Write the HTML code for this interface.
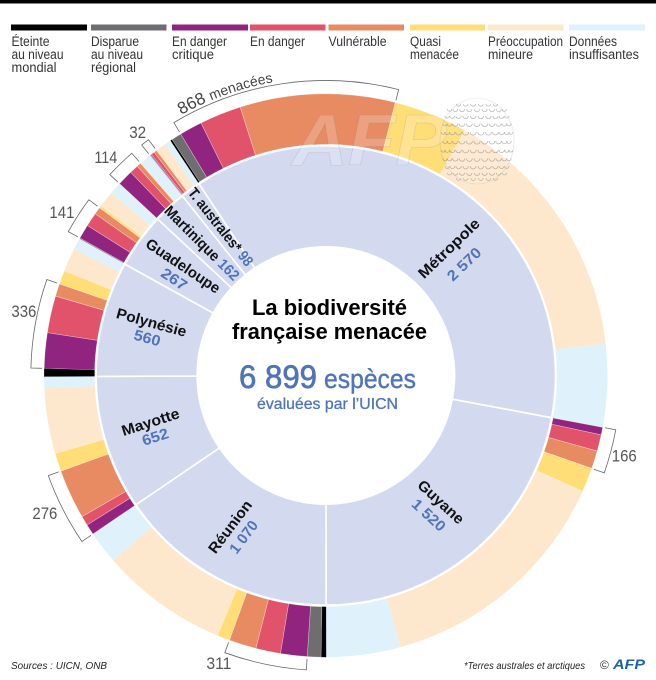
<!DOCTYPE html>
<html lang="fr">
<head>
<meta charset="utf-8">
<title>La biodiversité française menacée</title>
<style>
html,body{margin:0;padding:0;background:#fff;}
svg{display:block;font-family:"Liberation Sans",sans-serif;}
</style>
</head>
<body>
<svg id="chart" width="656" height="680" viewBox="0 0 656 680" xmlns="http://www.w3.org/2000/svg">
  <rect width="656" height="680" fill="#fff"/>
  <rect width="656" height="3.5" fill="#000"/>

  <g font-size="13.5" fill="#333">
    <g>
      <rect x="11" y="24.5" width="76" height="6" fill="#000"/>
      <text x="11.5" y="46" textLength="38" lengthAdjust="spacingAndGlyphs">Éteinte</text>
      <text x="11.5" y="59" textLength="52" lengthAdjust="spacingAndGlyphs">au niveau</text>
      <text x="11.5" y="72" textLength="45" lengthAdjust="spacingAndGlyphs">mondial</text>
    </g>
    <g>
      <rect x="91" y="24.5" width="75.5" height="6" fill="#6e6e70"/>
      <text x="91" y="46" textLength="48" lengthAdjust="spacingAndGlyphs">Disparue</text>
      <text x="91" y="59" textLength="52" lengthAdjust="spacingAndGlyphs">au niveau</text>
      <text x="91" y="72" textLength="45" lengthAdjust="spacingAndGlyphs">régional</text>
    </g>
    <g>
      <rect x="172" y="24.5" width="76" height="6" fill="#90247f"/>
      <text x="172" y="46" textLength="55" lengthAdjust="spacingAndGlyphs">En danger</text>
      <text x="172" y="59" textLength="42" lengthAdjust="spacingAndGlyphs">critique</text>
    </g>
    <g>
      <rect x="250" y="24.5" width="75.5" height="6" fill="#e0536a"/>
      <text x="250" y="46" textLength="55" lengthAdjust="spacingAndGlyphs">En danger</text>
    </g>
    <g>
      <rect x="328.5" y="24.5" width="75.5" height="6" fill="#e88a62"/>
      <text x="328.5" y="46" textLength="58" lengthAdjust="spacingAndGlyphs">Vulnérable</text>
    </g>
    <g>
      <rect x="410" y="24.5" width="75" height="6" fill="#ffdd77"/>
      <text x="410" y="46" textLength="31" lengthAdjust="spacingAndGlyphs">Quasi</text>
      <text x="410" y="59" textLength="49" lengthAdjust="spacingAndGlyphs">menacée</text>
    </g>
    <g>
      <rect x="488" y="24.5" width="75.5" height="6" fill="#fee8cd"/>
      <text x="488" y="46" textLength="75" lengthAdjust="spacingAndGlyphs">Préoccupation</text>
      <text x="488" y="59" textLength="45" lengthAdjust="spacingAndGlyphs">mineure</text>
    </g>
    <g>
      <rect x="569" y="24.5" width="76" height="6" fill="#dff1fb"/>
      <text x="569" y="46" textLength="48" lengthAdjust="spacingAndGlyphs">Données</text>
      <text x="569" y="59" textLength="70" lengthAdjust="spacingAndGlyphs">insuffisantes</text>
    </g>
  </g>

  <g id="outer-ring"></g>
  <g id="inner-ring"></g>
  <g id="brackets"></g>
  <g id="region-labels"></g>

  <g id="watermark">
    <text x="292" y="165" font-size="72" font-weight="bold" font-style="italic" fill="#ffffff" fill-opacity="0.2" stroke="#777" stroke-opacity="0.22" stroke-width="0.6" textLength="155" lengthAdjust="spacingAndGlyphs">AFP</text>
    <ellipse cx="477" cy="141" rx="37" ry="43" fill="#fff" fill-opacity="0.1" stroke="#999" stroke-opacity="0.3" stroke-width="0.6"/>
    <g id="dimples" fill="none" stroke="#8a8a8a" stroke-opacity="0.6" stroke-width="0.8"></g>
  </g>

  <g font-weight="bold" fill="#000" font-size="22">
    <text x="252" y="315" textLength="155" lengthAdjust="spacingAndGlyphs">La biodiversité</text>
    <text x="232" y="339" textLength="195" lengthAdjust="spacingAndGlyphs">française menacée</text>
  </g>
  <g fill="#4f74b8" stroke="#4f74b8">
    <text x="239" y="388" font-size="32" stroke-width="0.7" textLength="78" lengthAdjust="spacingAndGlyphs">6 899</text>
    <text x="324" y="388" font-size="27" stroke-width="0.4" textLength="92" lengthAdjust="spacingAndGlyphs">espèces</text>
    <text x="257" y="409" font-size="16" stroke-width="0.3" textLength="141" lengthAdjust="spacingAndGlyphs">évaluées par l’UICN</text>
  </g>

  <text x="11" y="669" font-size="10" font-style="italic" fill="#222" textLength="96" lengthAdjust="spacingAndGlyphs">Sources : UICN, ONB</text>
  <text x="464" y="669" font-size="10" font-style="italic" fill="#222" textLength="121" lengthAdjust="spacingAndGlyphs">*Terres australes et arctiques</text>
  <text x="600" y="669" font-size="12" fill="#333">©</text>
  <text x="613" y="669" font-size="14" font-weight="bold" font-style="italic" fill="#1d62ad" textLength="32" lengthAdjust="spacingAndGlyphs">AFP</text>
</svg>

<script>
// ---- Data (species counts) ----
const regionNames = ['Métropole', 'Guyane', 'Réunion', 'Mayotte', 'Polynésie', 'Guadeloupe', 'Martinique', 'T. australes*'];
const regionTotals = [2570, 1520, 1070, 652, 560, 267, 162, 98];
const regionTotalLabels = ['2 570', '1 520', '1 070', '652', '560', '267', '162', '98'];
const statusKeys = ['extinct', 'regional-loss', 'critical', 'endangered', 'vulnerable', 'near-threatened', 'least-concern', 'data-deficient'];
const extinct = [8, 0, 20, 0, 32, 0, 0, 0];
const regionalLoss = [40, 0, 54, 0, 0, 4, 0, 3];
const critical = [90, 30, 105, 42, 140, 57, 62, 4];
const endangered = [165, 65, 98, 38, 146, 55, 35, 13];
const vulnerable = [613, 71, 108, 196, 50, 29, 17, 12];
const nearThreatened = [293, 96, 50, 72, 54, 9, 2, 3];
const leastConcern = [1033, 965, 505, 258, 93, 65, 2, 38];
const dataDeficient = [328, 293, 130, 46, 45, 48, 44, 25];
const threatenedLabels = ['868', '166', '311', '276', '336', '141', '114', '32'];
const bracketStartStatus = [2, 2, 2, 2, 2, 2, 2, 1];

const statusSeries = [extinct, regionalLoss, critical, endangered, vulnerable, nearThreatened, leastConcern, dataDeficient];
const statusColors = ['#000000', '#6e6e70', '#90247f', '#e0536a', '#e88a62', '#ffdd77', '#fee8cd', '#dff1fb'];

// ---- Geometry ----
const cx = 325.8, cy = 375.5;
const holeR = 128.7, midR = 229.7, outInR = 231.2, outR = 281.7, brR = 295, brSerif = 284;
const startAngle = -33.5;
const NS = 'http://www.w3.org/2000/svg';
const grandTotal = regionTotals.reduce(function (a, b) { return a + b; }, 0);
function angleOf(v) { return v * 360 / grandTotal; }
function polar(a, r) {
  const t = a * Math.PI / 180;
  return [cx + r * Math.sin(t), cy - r * Math.cos(t)];
}
function sectorPath(a0, a1, r0, r1) {
  const p0 = polar(a0, r1), p1 = polar(a1, r1), p2 = polar(a1, r0), p3 = polar(a0, r0);
  const large = (a1 - a0) > 180 ? 1 : 0;
  return 'M' + p0[0] + ' ' + p0[1] + 'A' + r1 + ' ' + r1 + ' 0 ' + large + ' 1 ' + p1[0] + ' ' + p1[1] +
         'L' + p2[0] + ' ' + p2[1] + 'A' + r0 + ' ' + r0 + ' 0 ' + large + ' 0 ' + p3[0] + ' ' + p3[1] + 'Z';
}
function svgEl(tag) { return document.createElementNS(NS, tag); }
function slug(s) { return s.toLowerCase().replace(/[^a-zé]+/g, '-').replace(/-$/, ''); }

const innerRing = document.getElementById('inner-ring');
const outerRing = document.getElementById('outer-ring');
const bracketLayer = document.getElementById('brackets');
const labelLayer = document.getElementById('region-labels');

// Label placement (layout, not data)
const labelAngle = [44.1, 137.7, 212.3, 255.1, 286.9, 307.5, 316.9, 324.7];
const labelRadius = [177, 171, 179, 181.4, 182.2, 180, 181.3, 182];
const labelTilt = [2, -5, 4.7, -3, -1.5, -3.8, -2, -3];
const labelGap = [22, 18, 17, 15.6, 16, 16, 0, 0];
const labelInline = [false, false, false, false, false, false, true, true];
const labelFitName = [79, 57, 62, 60, 72, 86, 75, 71];
const labelFitValue = [41, 40, 37, 27, 27, 28, 0, 0];
const bracketLabelAngle = [0, 105, 200.4, 243.9, 282.1, 301.8, 314.8, 322.3];
const bracketLabelRadius = [0, 309, 306.8, 312.8, 308.8, 310.5, 310, 307.6];
const bracketLabelFit = [0, 25, 25, 25, 25, 25, 23, 17];

let cursor = startAngle;
regionTotals.forEach(function (total, i) {
  const a0 = cursor;
  const a1 = a0 + angleOf(total);
  const name = slug(regionNames[i]);

  const sector = svgEl('path');
  sector.setAttribute('d', sectorPath(a0, a1, holeR, midR));
  sector.setAttribute('fill', '#d3daf0');
  sector.setAttribute('stroke', '#fff');
  sector.setAttribute('stroke-width', '1.6');
  
  
  innerRing.appendChild(sector);

  let a = a0;
  let brA0 = a0, brA1 = a0;
  statusSeries.forEach(function (series, s) {
    const v = series[i];
    const w = angleOf(v);
    if (s === bracketStartStatus[i]) { brA0 = a; }
    if (v > 0) {
      const seg = svgEl('path');
      seg.setAttribute('d', sectorPath(a, a + w, outInR, outR));
      seg.setAttribute('fill', statusColors[s]);
      if (s >= 1 && s <= 5) {
        seg.setAttribute('stroke', '#ffffff');
        seg.setAttribute('stroke-opacity', '0.45');
        seg.setAttribute('stroke-width', '0.6');
      }
      
      
      outerRing.appendChild(seg);
    }
    a += w;
    if (s === 4) { brA1 = a; }
  });

  // threatened bracket
  const bp0 = polar(brA0, brSerif), bp1 = polar(brA0, brR), bp2 = polar(brA1, brR), bp3 = polar(brA1, brSerif);
  const br = svgEl('path');
  br.setAttribute('d', 'M' + bp0[0] + ' ' + bp0[1] + 'L' + bp1[0] + ' ' + bp1[1] +
    'A' + brR + ' ' + brR + ' 0 0 1 ' + bp2[0] + ' ' + bp2[1] + 'L' + bp3[0] + ' ' + bp3[1]);
  br.setAttribute('fill', 'none');
  br.setAttribute('stroke', '#666');
  br.setAttribute('stroke-width', '0.8');
  
  
  bracketLayer.appendChild(br);

  if (i === 0) {
    const arcPath = svgEl('path');
    const ap0 = polar(brA0 + 2, brR + 3), ap1 = polar(brA1, brR + 3);
    arcPath.setAttribute('id', 'metropole-label-arc');
    arcPath.setAttribute('d', 'M' + ap0[0] + ' ' + ap0[1] + 'A' + (brR + 3) + ' ' + (brR + 3) + ' 0 0 1 ' + ap1[0] + ' ' + ap1[1]);
    arcPath.setAttribute('fill', 'none');
    bracketLayer.appendChild(arcPath);
    const curved = svgEl('text');
    curved.setAttribute('fill', '#444');
    
    
    const tp = svgEl('textPath');
    tp.setAttribute('href', '#metropole-label-arc');
    const n = svgEl('tspan');
    n.setAttribute('font-size', '17');
    n.textContent = threatenedLabels[i] + ' ';
    const m = svgEl('tspan');
    m.setAttribute('font-size', '14');
    m.textContent = 'menacées';
    tp.appendChild(n);
    tp.appendChild(m);
    curved.appendChild(tp);
    bracketLayer.appendChild(curved);
  } else {
    const lp = polar(bracketLabelAngle[i], bracketLabelRadius[i]);
    const lab = svgEl('text');
    lab.setAttribute('x', lp[0]);
    lab.setAttribute('y', lp[1] + 6);
    lab.setAttribute('text-anchor', 'middle');
    lab.setAttribute('font-size', '17');
    lab.setAttribute('fill', '#555');
    lab.setAttribute('textLength', bracketLabelFit[i]);
    lab.setAttribute('lengthAdjust', 'spacingAndGlyphs');
    
    
    lab.textContent = threatenedLabels[i];
    bracketLayer.appendChild(lab);
  }

  // territory label: the group origin is the centre of the name line
  const la = labelAngle[i];
  const lr = labelRadius[i];
  const c = polar(la, lr);
  const rot = (la < 180 ? la - 90 : la - 270) + labelTilt[i];
  const g = svgEl('g');
  g.setAttribute('transform', 'translate(' + c[0] + ' ' + c[1] + ') rotate(' + rot + ')');
  
  
  g.setAttribute('font-weight', 'bold');
  g.setAttribute('font-size', '15');
  g.setAttribute('text-anchor', 'middle');
  if (labelInline[i]) {
    const t = svgEl('text');
    t.setAttribute('y', '5');
    const ts1 = svgEl('tspan');
    ts1.setAttribute('fill', '#111');
    ts1.textContent = regionNames[i] + ' ';
    const ts2 = svgEl('tspan');
    ts2.setAttribute('fill', '#4f74b8');
    ts2.textContent = regionTotalLabels[i];
    t.appendChild(ts1);
    t.appendChild(ts2);
    t.setAttribute('textLength', labelFitName[i] + 24);
    t.setAttribute('lengthAdjust', 'spacingAndGlyphs');
    g.appendChild(t);
  } else {
    const t1 = svgEl('text');
    t1.setAttribute('y', '5');
    t1.setAttribute('fill', '#111');
    t1.setAttribute('textLength', labelFitName[i]);
    t1.setAttribute('lengthAdjust', 'spacingAndGlyphs');
    t1.textContent = regionNames[i];
    g.appendChild(t1);
    const t2 = svgEl('text');
    t2.setAttribute('y', 5 + labelGap[i]);
    t2.setAttribute('fill', '#4f74b8');
    t2.setAttribute('textLength', labelFitValue[i]);
    t2.setAttribute('lengthAdjust', 'spacingAndGlyphs');
    t2.textContent = regionTotalLabels[i];
    g.appendChild(t2);
  }
  labelLayer.appendChild(g);

  cursor = a1;
});

// Golf ball dimples (decoration): grid bent onto the sphere
const dimples = document.getElementById('dimples');
for (let row = -6; row <= 6; row++) {
  for (let col = -6; col <= 6; col++) {
    const u = (col + (row % 2 ? 0.5 : 0)) / 6;
    const v = row / 6;
    if (u * u + v * v > 0.92) continue;
    const px = 477 + 37 * Math.sin(u * 1.25);
    const py = 141 + 43 * Math.sin(v * 1.25);
    const size = 3.1 * (1 - 0.35 * (u * u + v * v));
    const d = svgEl('path');
    d.setAttribute('d', 'M' + (px - size) + ' ' + py + 'A' + size + ' ' + size + ' 0 0 0 ' + (px + size) + ' ' + py);
    dimples.appendChild(d);
  }
}
</script>
</body>
</html>
